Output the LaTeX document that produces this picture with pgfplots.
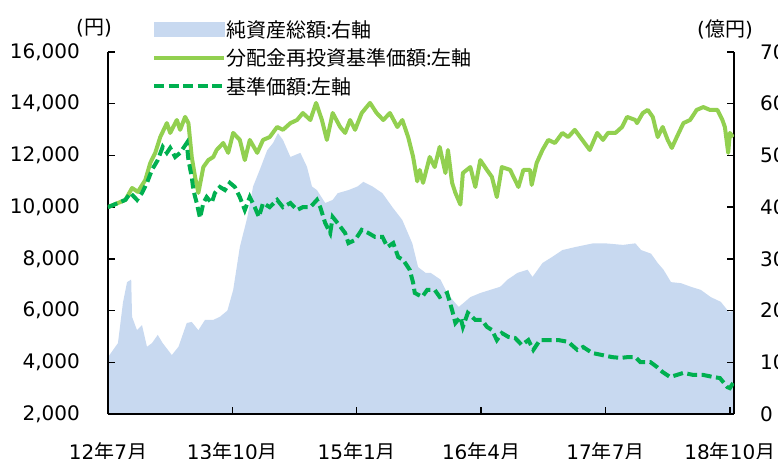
\documentclass[border=0pt]{standalone}
\usepackage{fontspec}
\setmainfont{DejaVu Sans}
\newfontfamily\jp{Noto Sans CJK JP}
\usepackage{pgfplots}
\pgfplotsset{compat=1.18}
\definecolor{areablue}{RGB}{200,217,240}
\definecolor{lgreen}{RGB}{146,208,80}
\definecolor{dgreen}{RGB}{0,176,80}
\newcommand{\tf}{\fontsize{20bp}{24bp}\selectfont}
\pgfplotsset{
  lineleg/.style={legend image code/.code={\draw[##1] (0bp,4bp) -- (70bp,4bp);}},
  arealeg/.style={legend image code/.code={\fill[areablue] (0bp,-3bp) rectangle (70bp,11bp);}},
}

\pgfplotstableread{
m R
0 11
1.2 13.7
1.8 21.5
2.3 25.5
2.8 26
2.9 18.8
3.5 16.2
4.1 17.2
4.7 13
5.3 13.7
6.0 15.3
6.6 13.7
7.7 11.4
8.5 13
9.5 17.6
10.1 17.8
10.9 16.2
11.7 18.2
12.7 18.2
13.5 18.8
14.4 20
15.1 24
15.9 32.3
16.8 38
17.5 44
18.3 47.2
19.2 51
19.9 52.4
20.5 54.3
21.1 53
22.0 49.7
23.2 50.5
24.0 47.8
24.6 44
25.2 43.3
26.2 40.8
27.1 41.4
27.7 42.7
29.0 43.3
30.1 44
30.8 44.9
31.9 44
33.1 42.7
34.3 40
35.5 37.5
36.7 33
37.4 28.4
38.3 27.3
38.9 27.3
40.1 26
40.9 23.4
41.6 22
42.3 20.7
42.9 21.5
43.7 22.6
44.9 23.4
46.1 24
47.3 24.6
48.2 26
49.4 27.3
50.6 27.9
51.2 26.5
52.4 29.2
53.6 30.4
54.8 31.7
56.4 32.3
58.5 33
60.0 33
62.1 32.7
63.6 33
64.3 31.7
65.5 31
66.3 29.2
67.0 27.9
67.9 25.5
69.1 25.3
70.3 24.6
71.5 24
72.7 22.6
73.9 21.7
74.9 19.7
75.5 20
}\netassets

\pgfplotstableread{
m L
0.0 10000
1.2 10160
2.1 10280
2.9 10740
3.6 10590
4.5 11050
5.1 11710
5.7 12100
6.3 12710
7.1 13250
7.5 12870
8.3 13370
8.7 12990
9.3 13490
9.7 13250
10.1 11940
10.5 11170
10.9 10550
11.5 11550
12.1 11820
12.7 11940
13.1 12210
13.9 12480
14.5 12100
15.1 12870
15.9 12600
16.5 11820
17.1 12600
18.0 12100
18.7 12600
19.5 12710
20.4 13100
21.1 12990
22.0 13250
22.8 13370
23.5 13640
24.4 13370
25.1 14030
25.8 13370
26.4 12600
27.1 13640
28.0 13100
28.6 12870
29.2 13370
29.8 12990
30.6 13640
31.6 14030
32.4 13640
33.2 13370
34.0 13640
34.9 13100
35.5 13370
36.2 12710
36.8 11940
37.3 11000
37.6 11440
38.0 10940
38.8 11940
39.4 11550
40.0 12330
40.7 11320
41.0 12210
41.5 10940
41.9 10550
42.5 10100
42.8 11320
43.7 11550
44.3 10780
44.9 11820
45.7 11440
46.3 11170
46.9 10390
47.5 11550
48.5 11440
49.5 10780
50.1 11440
50.9 11440
51.1 10860
51.7 11710
52.4 12210
53.1 12600
53.9 12480
54.8 12870
55.5 12710
56.3 12990
57.2 12600
58.1 12210
59.0 12870
59.7 12600
60.3 12870
61.2 12870
62.0 13100
62.6 13490
63.6 13370
63.8 13250
64.5 13640
65.1 13760
65.7 13490
66.3 12710
66.9 13100
67.5 12600
68.0 12290
68.6 12710
69.4 13250
70.2 13370
71.0 13760
71.8 13870
72.6 13760
73.5 13760
74.1 13370
74.4 13100
74.8 12100
75.0 12870
75.4 12710
}\reinvest

\pgfplotstableread{
m L
0.0 10000
1.2 10160
2.1 10280
2.7 10550
3.5 10280
4.1 10550
4.7 10940
5.3 11440
6.0 11820
6.6 12330
7.1 12100
7.5 12290
8.1 11940
8.7 12100
9.5 12480
9.7 11820
10.1 11170
10.3 10660
10.7 10160
11.1 9580
11.5 10160
11.9 10390
12.5 10160
12.9 10550
13.5 10780
14.1 10660
14.7 10940
15.3 10780
15.9 10390
16.5 9890
17.1 10390
17.7 10000
18.2 9620
18.7 10160
19.5 10000
20.4 10280
21.1 10000
22.0 10160
22.8 9890
23.5 10000
24.4 10000
25.2 10280
25.6 10000
26.2 9380
26.8 9000
27.1 9620
27.7 9380
28.6 9000
29.0 8610
29.8 8730
30.6 9120
31.4 9000
32.2 8850
33.1 8850
33.7 8460
34.4 8610
35.0 8070
35.6 7960
36.4 7570
36.8 7070
37.0 6680
37.9 6530
38.5 6800
39.4 6800
40.0 6530
40.9 6680
41.5 6020
41.9 5520
42.5 5750
42.8 5370
43.4 5910
44.3 5640
45.1 5640
45.7 5370
46.3 5250
46.9 4860
47.5 5130
48.3 4980
49.1 4940
49.9 4670
50.7 4860
51.3 4480
52.1 4860
53.1 4860
54.3 4860
55.5 4790
56.6 4480
57.3 4590
58.4 4360
59.6 4280
60.8 4200
61.8 4170
62.7 4200
63.6 4200
64.2 4010
65.4 4010
66.2 3820
66.9 3620
67.8 3430
68.6 3510
69.4 3590
70.6 3510
71.8 3510
73.0 3430
73.8 3390
74.7 3040
75.0 3000
75.4 3200
}\nav

\begin{document}
\begin{tikzpicture}
\path[use as bounding box] (-108bp,-45bp) rectangle (670bp,414bp);
% right axis: net assets (area)
\begin{axis}[
  scale only axis, width=626bp, height=362bp,
  xmin=0, xmax=75.5, ymin=0, ymax=70,
  axis x line=none, axis y line*=right,
  axis line style={-, line width=1.5bp, black},
  ytick={0,10,...,70},
  tick align=inside, major tick length=7bp,
  tick style={line width=1.5bp, black},
  /pgf/number format/assume math mode=true,
  yticklabel style={font=\tf, inner sep=0pt, anchor=west, xshift=26bp},
  axis on top,
]
\addplot[fill=areablue, draw=none] table[x=m, y=R] {\netassets} \closedcycle;
\end{axis}
% left axis: prices
\begin{axis}[
  scale only axis, width=626bp, height=362bp,
  xmin=0, xmax=75.5, ymin=2000, ymax=16000,
  axis x line*=bottom, axis y line*=left,
  axis line style={-, line width=1.5bp, black},
  ytick={2000,4000,...,16000},
  scaled y ticks=false,
  xtick={0,15,30,45,60,75},
  xticklabels={12{\jp 年}7{\jp 月},13{\jp 年}10{\jp 月},15{\jp 年}1{\jp 月},16{\jp 年}4{\jp 月},17{\jp 年}7{\jp 月},18{\jp 年}10{\jp 月}},
  tick align=inside, major tick length=7bp,
  tick style={line width=1.5bp, black},
  /pgf/number format/1000 sep={,},
  /pgf/number format/assume math mode=true,
  yticklabel style={font=\tf, inner sep=0pt, anchor=east, xshift=-28bp},
  xticklabel style={font=\tf, inner sep=0pt, anchor=north, yshift=-28bp},
  legend style={draw=none, fill=none, at={(rel axis cs:0,1)}, anchor=north west,
    xshift=44bp, yshift=30bp, inner sep=0pt, row sep=8.5bp,
    font=\jp\tf, nodes={inner sep=0pt, text height=14bp, text depth=6bp},
    /tikz/every even column/.append style={column sep=9bp}},
  legend cell align=left,
]
\addlegendimage{arealeg}
\addlegendentry{純資産総額:右軸}
\addplot[lgreen, line width=4bp, line join=round, lineleg] table[x=m, y=L] {\reinvest};
\addlegendentry{分配金再投資基準価額:左軸}
\addplot[dgreen, line width=4bp, dash pattern=on 10bp off 4.5bp, lineleg] table[x=m, y=L] {\nav};
\addlegendentry{基準価額:左軸}
\end{axis}
\node[font=\tf, inner sep=0pt] at (-14bp,386bp) {({\jp 円})};
\node[font=\tf, inner sep=0pt] at (617bp,385bp) {({\jp 億円})};
\end{tikzpicture}
\end{document}
